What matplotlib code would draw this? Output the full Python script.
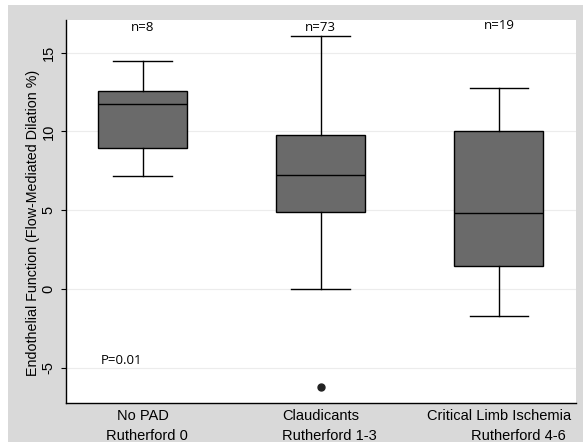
import matplotlib
matplotlib.use("Agg")
import matplotlib.pyplot as plt
from matplotlib.patches import Rectangle

# data
groups = ["No PAD", "Claudicants", "Critical Limb Ischemia"]
subgroups = ["Rutherford 0", "Rutherford 1-3", "Rutherford 4-6"]
counts = ["n=8", "n=73", "n=19"]
whisker_low = [7.2, 0.0, -1.73]
q1 = [8.94, 4.9, 1.48]
median = [11.75, 7.25, 4.84]
q3 = [12.57, 9.8, 10.0]
whisker_high = [14.47, 16.08, 12.74]
outliers = [[], [-6.23], []]
yticks = [-5, 0, 5, 10, 15]

BOX_FILL = "#6a6a6a"
BG_GRAY = "#d9d9d9"

plt.rcParams["font.family"] = ["Liberation Sans", "DejaVu Sans"]

fig = plt.figure(figsize=(5.83, 4.42), dpi=100, facecolor="white")
fig.patches.append(Rectangle((8 / 583, 0), 575 / 583, 437 / 442,
                             transform=fig.transFigure, facecolor=BG_GRAY,
                             edgecolor="none", zorder=-10))
ax = fig.add_axes([66 / 583, 39 / 442, 509.5 / 583, 383 / 442])
ax.set_zorder(1)
ax.set_facecolor("white")

stats = []
for i in range(len(groups)):
    stats.append({
        "whislo": whisker_low[i], "q1": q1[i], "med": median[i],
        "q3": q3[i], "whishi": whisker_high[i], "fliers": outliers[i],
    })

positions = list(range(1, len(groups) + 1))
ax.bxp(stats, positions=positions, widths=0.5, capwidths=0.33,
       patch_artist=True, showfliers=True,
       boxprops=dict(facecolor=BOX_FILL, edgecolor="black", linewidth=1.0),
       medianprops=dict(color="black", linewidth=1.0),
       whiskerprops=dict(color="black", linewidth=1.0),
       capprops=dict(color="black", linewidth=1.0),
       flierprops=dict(marker="o", markerfacecolor="#222222",
                       markeredgecolor="#222222", markersize=5))

ax.set_xlim(0.57, 3.43)
ax.set_ylim(-7.22, 17.07)
ax.set_yticks(yticks)
ax.set_yticklabels([str(t) for t in yticks], rotation=90, va="center")
ax.tick_params(axis="y", length=3.6, width=0.8, labelsize=10.5, pad=4)
ax.yaxis.grid(True, color="#ececec", linewidth=0.8)
ax.set_axisbelow(True)

ax.set_xticks(positions)
ax.set_xticklabels(groups, fontsize=10.5)
ax.tick_params(axis="x", length=0, pad=4)
sub_offsets = [0.025, 0.05, 0.107]
for p, s, off in zip(positions, subgroups, sub_offsets):
    ax.text(p + off, -0.085, s, transform=ax.get_xaxis_transform(),
            ha="center", va="center", fontsize=10.5)

count_y = [0.98, 0.98, 0.985]
for p, c, cy in zip(positions, counts, count_y):
    ax.text(p, cy, c, transform=ax.get_xaxis_transform(), ha="center",
            va="center", fontsize=9.5, family=["Open Sans", "DejaVu Sans"])
ax.text(0.765, -4.52, "P=0.01", ha="left", va="center", fontsize=9.5,
        family=["Open Sans", "DejaVu Sans"])

ax.set_ylabel("Endothelial Function (Flow-Mediated Dilation %)", fontsize=10.3)
ax.yaxis.set_label_coords(-0.052, 0.47)

for side in ["top", "right"]:
    ax.spines[side].set_visible(False)
for side in ["left", "bottom"]:
    ax.spines[side].set_linewidth(1.0)

fig.savefig("out.png", dpi=100, facecolor="white")
